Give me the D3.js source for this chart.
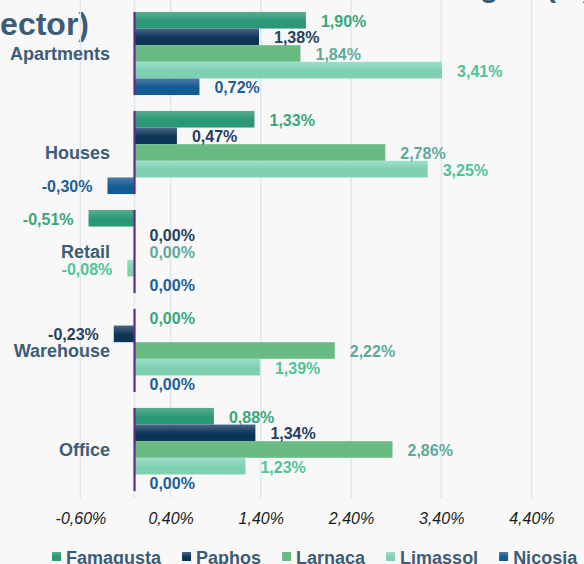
<!DOCTYPE html>
<html>
<head>
<meta charset="utf-8">
<script src="https://cdn.jsdelivr.net/npm/d3@7"></script>
<style>
  html, body { margin: 0; padding: 0; background: #f8f8f8; }
  svg { display: block; font-family: "Liberation Sans", Arial, sans-serif; }
</style>
</head>
<body>
<div id="chart_root"></div>
<script>
const widthValue = 584;
const heightValue = 564;

// data
const categories = ["Apartments", "Houses", "Retail", "Warehouse", "Office"];
const series = ["Famagusta", "Paphos", "Larnaca", "Limassol", "Nicosia"];
const famagusta = [1.90, 1.33, -0.51, 0.00, 0.88];
const paphos = [1.38, 0.47, 0.00, -0.23, 1.34];
const larnaca = [1.84, 2.78, 0.00, 2.22, 2.86];
const limassol = [3.41, 3.25, -0.08, 1.39, 1.23];
const nicosia = [0.72, -0.30, 0.00, 0.00, 0.00];
const xTicks = [-0.6, 0.4, 1.4, 2.4, 3.4, 4.4];

const values = [famagusta, paphos, larnaca, limassol, nicosia];

// colours: [top of gradient, bar, label]
const colors = {
  Famagusta: ["#5aad90", "#2a9877", "#3ba67b"],
  Paphos: ["#4a6586", "#0b3456", "#25405e"],
  Larnaca: ["#6abb82", "#6abb82", "#5fa99b"],
  Limassol: ["#9be0ca", "#7fd0b1", "#4fc498"],
  Nicosia: ["#4d7ba6", "#135b93", "#1d5f96"],
};
const slate = "#3e5c76";

const locale = d3.formatLocale({
  decimal: ",",
  thousands: ".",
  grouping: [3],
  currency: ["", "€"],
  minus: "-",
});
const fmt = locale.format(".2f");
const pct = (d) => fmt(d) + "%";

const svg = d3
  .select("#chart_root")
  .append("svg")
  .attr("width", widthValue)
  .attr("height", heightValue)
  .style("background", "#f8f8f8");

// gradients for the bars
const defs = svg.append("defs");
series.forEach((s) => {
  const g = defs
    .append("linearGradient")
    .attr("id", "grad_" + s)
    .attr("x1", 0).attr("y1", 0).attr("x2", 0).attr("y2", 1);
  g.append("stop").attr("offset", "0%").attr("stop-color", colors[s][0]);
  g.append("stop").attr("offset", "55%").attr("stop-color", colors[s][1]);
  g.append("stop").attr("offset", "100%").attr("stop-color", colors[s][1]);
});

// scales
const xScale = d3.scaleLinear().domain([-0.6, 5.4]).range([80.4, 621.6]);
const yScale = d3
  .scaleBand()
  .domain(categories)
  .range([4, 499])
  .paddingInner(0.16)
  .paddingOuter(0.08);
const ySub = d3.scaleBand().domain(series).range([0, yScale.bandwidth()]);

// title remains (chart is cropped)
svg
  .append("text")
  .attr("x", 89)
  .attr("y", 35)
  .attr("text-anchor", "end")
  .attr("font-size", 32)
  .attr("font-weight", "bold")
  .attr("fill", slate)
  .text("by sector)");
const topTitle = svg
  .append("text")
  .attr("y", -3)
  .attr("font-size", 30)
  .attr("font-weight", "bold")
  .attr("fill", slate);
topTitle.append("tspan").attr("x", 480).text("g");
topTitle.append("tspan").attr("x", 546).text("(%)");

// gridlines
svg
  .append("g")
  .attr("class", "grid")
  .selectAll("line")
  .data(xTicks.concat([0]))
  .join("line")
  .attr("x1", (d) => xScale(d))
  .attr("x2", (d) => xScale(d))
  .attr("y1", 0)
  .attr("y2", 498)
  .attr("stroke", "#dde7f0")
  .attr("stroke-width", 1.5);

// x axis labels
const xAxis = svg
  .append("g")
  .attr("transform", "translate(0,505)")
  .call(
    d3
      .axisBottom(xScale)
      .tickValues(xTicks)
      .tickSize(0)
      .tickPadding(8)
      .tickFormat(pct)
  );
xAxis.select(".domain").remove();
xAxis
  .selectAll("text")
  .attr("font-size", 16)
  .attr("font-style", "italic")
  .attr("fill", "#1a1a1a")
  .attr("font-family", "Liberation Sans, Arial, sans-serif");

// bars
const rows = [];
categories.forEach((c, ci) => {
  series.forEach((s, si) => {
    rows.push({ cat: c, ser: s, v: values[si][ci] });
  });
});

const bars = svg.append("g").attr("class", "bars");
bars
  .selectAll("rect")
  .data(rows.filter((d) => d.v !== 0))
  .join("rect")
  .attr("x", (d) => xScale(Math.min(0, d.v)))
  .attr("width", (d) => Math.abs(xScale(d.v) - xScale(0)))
  .attr("y", (d) => yScale(d.cat) + ySub(d.ser))
  .attr("height", ySub.bandwidth())
  .attr("fill", (d) => "url(#grad_" + d.ser + ")");

// vertical category axis line at zero
svg
  .append("g")
  .selectAll("line")
  .data(categories)
  .join("line")
  .attr("x1", xScale(0))
  .attr("x2", xScale(0))
  .attr("y1", (d) => yScale(d))
  .attr("y2", (d) => yScale(d) + yScale.bandwidth())
  .attr("stroke", "#5e2d85")
  .attr("stroke-width", 2.2);

// category labels
svg
  .append("g")
  .selectAll("text")
  .data(categories)
  .join("text")
  .attr("x", 110)
  .attr("y", (d) => yScale(d) + yScale.bandwidth() / 2)
  .attr("dy", "0.35em")
  .attr("text-anchor", "end")
  .attr("font-size", 18)
  .attr("font-weight", "bold")
  .attr("fill", slate)
  .text((d) => d);

// value labels
svg
  .append("g")
  .selectAll("text")
  .data(rows)
  .join("text")
  .attr("x", (d) => (d.v < 0 ? xScale(d.v) - 15 : xScale(d.v) + 15))
  .attr("y", (d) => yScale(d.cat) + ySub(d.ser) + ySub.bandwidth() / 2 + 1)
  .attr("dy", "0.35em")
  .attr("text-anchor", (d) => (d.v < 0 ? "end" : "start"))
  .attr("font-size", 16)
  .attr("font-weight", "bold")
  .attr("fill", (d) => colors[d.ser][2])
  .text((d) => pct(d.v));

// legend
const legend = svg.append("g").attr("class", "legend");
let lx = 52;
series.forEach((s) => {
  legend
    .append("rect")
    .attr("x", lx)
    .attr("y", 552)
    .attr("width", 9)
    .attr("height", 9)
    .attr("fill", "url(#grad_" + s + ")");
  const t = legend
    .append("text")
    .attr("x", lx + 14)
    .attr("y", 564)
    .attr("font-size", 18)
    .attr("font-weight", "bold")
    .attr("fill", slate)
    .text(s);
  lx += 14 + t.node().getComputedTextLength() + 21;
});
</script>
</body>
</html>
